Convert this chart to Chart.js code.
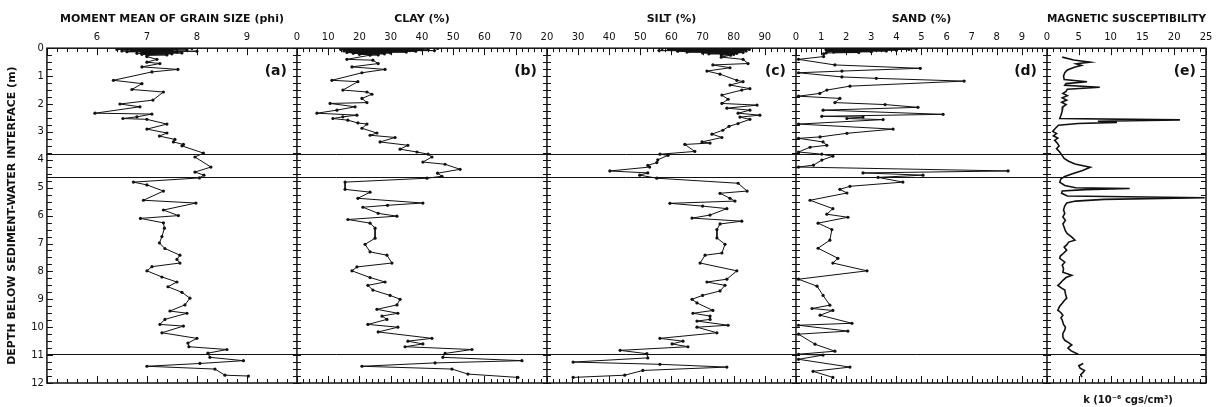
<!DOCTYPE html>
<html lang="en">
<head>
  <meta charset="UTF-8">
  <title>Core profiles</title>
  <script src="https://cdn.jsdelivr.net/npm/chart.js"></script>
  <style>
    html, body { margin: 0; padding: 0; background: #fff; }
    #wrap { width: 1219px; height: 407px; }
  </style>
</head>
<body>
<div id="wrap"><canvas id="profiles" width="1219" height="407"></canvas></div>
<script>
// (a) moment mean of grain size, phi
const grainDepth = [0.01, 0.02, 0.03, 0.045, 0.06, 0.07, 0.085, 0.1, 0.11, 0.125, 0.14, 0.155, 0.17, 0.185, 0.2, 0.22, 0.24, 0.26, 0.3, 0.4, 0.5, 0.55, 0.67, 0.76, 0.85, 1.15, 1.27, 1.48, 1.57, 1.86, 2.0, 2.1, 2.33, 2.36, 2.46, 2.52, 2.55, 2.72, 2.9, 3.04, 3.15, 3.27, 3.36, 3.45, 3.5, 3.76, 3.9, 4.26, 4.44, 4.55, 4.65, 4.8, 4.9, 5.12, 5.45, 5.55, 5.8, 6.0, 6.1, 6.26, 6.45, 6.75, 6.98, 7.18, 7.42, 7.57, 7.7, 7.83, 7.98, 8.2, 8.38, 8.55, 8.75, 8.96, 9.2, 9.42, 9.5, 9.72, 9.9, 9.96, 10.2, 10.4, 10.57, 10.7, 10.8, 10.93, 11.08, 11.2, 11.3, 11.4, 11.5, 11.72, 11.75];
const grainPhi = [7.9, 6.5, 7.6, 6.4, 7.8, 6.7, 7.5, 6.5, 8.0, 6.6, 7.6, 6.9, 7.7, 6.8, 7.5, 6.9, 7.4, 7.0, 7.0, 7.2, 7.0, 7.26, 6.9, 7.62, 7.1, 6.33, 6.9, 6.7, 7.33, 7.12, 6.46, 6.86, 5.96, 7.1, 6.8, 6.52, 7.0, 7.4, 7.0, 7.4, 7.25, 7.56, 7.53, 7.73, 7.7, 8.13, 7.96, 8.28, 7.96, 8.14, 8.05, 6.73, 7.0, 7.33, 6.93, 7.98, 7.33, 7.63, 6.87, 7.33, 7.35, 7.3, 7.25, 7.36, 7.66, 7.6, 7.66, 7.1, 7.0, 7.3, 7.6, 7.42, 7.7, 7.86, 7.76, 7.46, 7.8, 7.36, 7.26, 7.73, 7.3, 8.0, 7.82, 7.84, 8.6, 8.22, 8.26, 8.93, 8.06, 7.0, 8.36, 8.56, 9.03];

// (b) clay, %
const clayDepth = [0.01, 0.02, 0.03, 0.045, 0.06, 0.07, 0.085, 0.1, 0.11, 0.125, 0.14, 0.155, 0.17, 0.185, 0.2, 0.22, 0.24, 0.25, 0.4, 0.43, 0.55, 0.67, 0.76, 0.88, 1.15, 1.2, 1.5, 1.57, 1.65, 1.8, 1.95, 1.98, 2.1, 2.22, 2.33, 2.4, 2.46, 2.52, 2.58, 2.68, 2.72, 2.87, 3.04, 3.12, 3.2, 3.36, 3.48, 3.62, 3.72, 3.8, 3.9, 4.08, 4.16, 4.34, 4.48, 4.59, 4.66, 4.8, 5.06, 5.16, 5.38, 5.55, 5.63, 5.7, 5.92, 6.02, 6.14, 6.27, 6.45, 6.81, 7.03, 7.3, 7.42, 7.7, 7.84, 7.98, 8.22, 8.38, 8.5, 8.67, 8.86, 9.0, 9.2, 9.36, 9.5, 9.6, 9.72, 9.9, 10.0, 10.17, 10.4, 10.5, 10.6, 10.7, 10.8, 10.94, 11.08, 11.2, 11.28, 11.4, 11.5, 11.68, 11.8];
const clayPct = [45, 15, 42, 14, 40, 16, 44, 15, 38, 17, 35, 16, 30, 18, 28, 20, 26, 23.4, 16, 24.3, 26, 17.6, 28.2, 20.8, 11.2, 19.5, 14.7, 22.4, 24, 20.8, 22.4, 10.6, 18.6, 12.8, 6.4, 19.2, 14.7, 11.5, 16.3, 19.5, 22.4, 20.8, 25.6, 23.4, 31.4, 26.6, 35.5, 33, 38.4, 42, 43.2, 40.3, 47.4, 52.2, 45, 46.4, 41.6, 15.4, 15.4, 23.4, 19.5, 40.3, 29, 21.1, 26, 32, 16.3, 23.4, 25, 25, 21.8, 23.4, 28.8, 30.4, 19.2, 17.6, 23.4, 28.2, 22.7, 24.3, 29.8, 33, 32, 25.6, 32.3, 27.2, 28.8, 22.7, 32.3, 26, 43.2, 35.5, 40.3, 34.6, 56, 47.4, 46.7, 72, 44.2, 20.8, 49.6, 54.7, 70.7];

// (c) silt, %
const siltDepth = [0.01, 0.02, 0.03, 0.045, 0.06, 0.07, 0.085, 0.1, 0.11, 0.125, 0.14, 0.155, 0.17, 0.185, 0.2, 0.22, 0.24, 0.25, 0.32, 0.4, 0.55, 0.6, 0.7, 0.82, 0.93, 1.15, 1.2, 1.32, 1.45, 1.5, 1.68, 1.83, 1.98, 2.04, 2.15, 2.22, 2.33, 2.4, 2.47, 2.55, 2.7, 2.8, 2.94, 3.08, 3.2, 3.36, 3.4, 3.45, 3.7, 3.8, 3.84, 4.0, 4.1, 4.2, 4.26, 4.4, 4.47, 4.55, 4.66, 4.84, 5.12, 5.2, 5.38, 5.48, 5.56, 5.66, 5.75, 5.98, 6.09, 6.2, 6.3, 6.5, 6.8, 7.03, 7.34, 7.42, 7.7, 7.98, 8.28, 8.38, 8.5, 8.7, 8.86, 9.0, 9.13, 9.4, 9.5, 9.6, 9.72, 9.78, 9.93, 10.0, 10.2, 10.4, 10.5, 10.6, 10.7, 10.83, 10.95, 11.1, 11.25, 11.33, 11.43, 11.55, 11.72, 11.8];
const siltPct = [57, 84, 59, 85, 60, 83, 56, 84, 62, 82, 65, 83, 70, 81, 72, 80, 76, 79, 76, 83, 84.6, 73.3, 78.8, 71.4, 75.6, 81, 83, 78.8, 85.2, 82.6, 76.2, 78.2, 76.2, 87.5, 77.8, 85.2, 81.4, 88.4, 82, 85.2, 81.4, 78.5, 76.5, 73, 76.2, 69.8, 72.4, 64.3, 67.5, 56.3, 58.9, 55.6, 55.3, 52.4, 53, 40.2, 52.4, 49.8, 55.3, 81.4, 84.3, 75.6, 78.8, 80.4, 59.5, 70, 77.8, 72.4, 66.6, 82.6, 75.6, 74.6, 74.6, 77.2, 76.2, 70.8, 69.2, 81, 77.8, 71.4, 77.2, 75.6, 70, 66.6, 68.2, 73.3, 66.9, 72.4, 72.4, 68.2, 78.2, 68.2, 74.6, 56.3, 63.7, 60.2, 65.3, 43.5, 52.1, 52.4, 28.4, 56.3, 77.8, 50.8, 45, 28.4];

// (d) sand, %
const sandDepth = [0.01, 0.02, 0.03, 0.045, 0.06, 0.07, 0.085, 0.1, 0.11, 0.125, 0.14, 0.155, 0.17, 0.2, 0.3, 0.4, 0.6, 0.72, 0.82, 0.88, 1.03, 1.08, 1.18, 1.36, 1.5, 1.62, 1.72, 1.8, 1.95, 2.02, 2.12, 2.22, 2.37, 2.44, 2.47, 2.52, 2.56, 2.72, 2.9, 3.05, 3.18, 3.23, 3.36, 3.48, 3.55, 3.72, 3.8, 3.87, 4.01, 4.19, 4.26, 4.4, 4.47, 4.55, 4.63, 4.8, 4.95, 5.06, 5.19, 5.45, 5.75, 5.95, 6.06, 6.27, 6.5, 6.88, 7.17, 7.53, 7.7, 7.98, 8.28, 8.53, 8.86, 9.21, 9.33, 9.4, 9.57, 9.86, 9.93, 10.14, 10.25, 10.61, 10.86, 10.97, 11.0, 11.15, 11.43, 11.58, 11.8];
const sandPct = [1.2, 4.8, 1.3, 4.5, 1.2, 4.0, 1.4, 3.6, 1.3, 3.0, 1.5, 2.5, 1.2, 1.1, 1.1, 0.1, 1.55, 4.95, 1.83, 0.1, 1.83, 3.2, 6.7, 2.15, 1.23, 0.95, 0.1, 1.75, 1.55, 3.55, 4.86, 1.08, 5.86, 1.03, 2.67, 2.03, 3.47, 0.1, 3.87, 2.03, 0.96, 0.1, 1.08, 1.23, 0.56, 0.1, 1.03, 1.47, 1.03, 0.7, 0.1, 8.45, 2.67, 5.06, 3.27, 4.26, 2.15, 1.75, 2.03, 0.56, 1.47, 1.23, 2.07, 0.88, 1.43, 1.35, 0.88, 1.67, 1.47, 2.83, 0.1, 0.84, 1.08, 1.35, 0.64, 1.47, 0.96, 2.23, 0.1, 2.07, 0.1, 0.76, 1.55, 0.1, 1.08, 0.1, 2.15, 0.68, 1.47];

// (e) magnetic susceptibility, k (10^-6 cgs/cm3); null = no measurement
const magDepth = [0.32, 0.42, 0.5, 0.56, 0.62, 0.68, 0.78, 0.88, 1.0, 1.12, 1.2, 1.27, 1.33, 1.4, 1.47, 1.55, 1.62, 1.7, 1.78, 1.86, 1.94, 2.02, 2.1, 2.25, 2.4, 2.52, 2.57, 2.62, 2.66, 2.7, 2.76, 2.88, 2.98, 3.06, 3.14, 3.22, 3.3, 3.4, 3.5, 3.6, 3.72, 3.85, 3.95, 4.05, 4.15, 4.27, 4.38, 4.5, 4.6, 4.68, 4.8, 4.92, 5.0, 5.03, 5.07, 5.12, 5.2, 5.3, 5.36, 5.42, 5.48, 5.55, 5.65, 5.8, 5.92, 6.05, 6.17, 6.3, 6.42, 6.55, 6.65, 6.77, 6.88, 6.95, 7.05, 7.13, 7.24, 7.35, 7.45, 7.53, 7.67, 7.78, 7.9, 8.03, 8.14, 8.22, 8.32, 8.42, 8.5, 8.6, 8.67, 8.8, 8.96, 9.05, 9.14, 9.25, 9.39, 9.48, 9.57, 9.66, 9.75, 9.9, 10.0, 10.1, 10.22, 10.36, 10.47, 10.55, 10.64, 10.7, 10.75, 10.85, 10.97, 11.1, 11.3, 11.38, 11.47, 11.55, 11.61, 11.7, 11.79];
const magK = [2.4, 4.2, 6.8, 4.6, 5.4, 4.3, 3.2, 2.8, 2.6, 2.7, 6.3, 3.0, 2.8, 8.3, 3.2, 3.0, 2.5, 3.2, 2.4, 3.1, 2.3, 3.0, 2.5, 2.4, 2.2, 2.0, 20.9, 8.0, 11.0, 4.9, 1.8, 1.3, 0.9, 1.5, 1.0, 1.7, 1.2, 1.6, 1.9, 1.5, 2.0, 2.4, 2.7, 3.4, 4.4, 6.8, 5.6, 4.0, 2.8, 2.2, 2.0, 2.8, 4.5, 13.0, 6.0, 2.4, 2.3, 3.2, 24.8, 9.0, 4.5, 3.1, 2.8, 2.6, 2.8, 2.5, 2.9, 2.5, 2.7, 2.9, 3.2, 3.9, 4.4, 3.4, 3.1, 2.7, 3.1, 2.6, 2.1, 2.0, 2.8, 2.4, 2.6, 2.5, 3.9, 3.0, 2.5, 2.1, 1.7, 2.3, 2.8, 2.9, 3.1, 2.7, 2.4, 2.0, 1.7, 2.2, 2.5, 2.2, 2.4, 2.6, 2.9, 2.8, 2.5, 2.5, 2.8, 3.4, 3.9, 3.5, 3.3, 3.8, 4.9, null, 5.7, 5.0, 5.2, 5.9, 5.7, 5.3, 5.5];

// horizontal unit boundaries across all panels (m)
const boundaryDepths = [3.8, 4.6, 10.95];

const INK = '#111';
const FONT = '"DejaVu Sans", "Liberation Sans", sans-serif';

const panels = [
  { id: 'xa', title: 'MOMENT MEAN OF GRAIN SIZE (phi)', min: 5, max: 10, major: 1, minor: 0.2, hide: [5, 10], tag: '(a)', weight: 250, depth: grainDepth, vals: grainPhi },
  { id: 'xb', title: 'CLAY (%)', min: 0, max: 80, major: 10, minor: 2, hide: [80], tag: '(b)', weight: 250, depth: clayDepth, vals: clayPct },
  { id: 'xc', title: 'SILT (%)', min: 20, max: 100, major: 10, minor: 2, hide: [100], tag: '(c)', weight: 249, depth: siltDepth, vals: siltPct },
  { id: 'xd', title: 'SAND (%)', min: 0, max: 10, major: 1, minor: 0.2, hide: [10], tag: '(d)', weight: 251, depth: sandDepth, vals: sandPct },
  { id: 'xe', title: 'MAGNETIC SUSCEPTIBILITY', min: 0, max: 25, major: 5, minor: 1, hide: [], tag: '(e)', weight: 159, depth: magDepth, vals: magK, curve: true }
];

const scales = {
  y: {
    type: 'linear', position: 'left', reverse: true, min: 0, max: 12,
    grid: { display: false, drawTicks: false },
    border: { display: false },
    ticks: { stepSize: 1, padding: 3, color: INK, font: { family: FONT, size: 10 } },
    title: {
      display: true, text: 'DEPTH BELOW SEDIMENT-WATER INTERFACE (m)', color: INK,
      font: { family: FONT, size: 11, weight: 'bold' }, padding: { top: 4, bottom: 9 }
    }
  }
};

// top boxes are laid out by descending weight, so (a) gets the highest
panels.forEach((p, i) => {
  scales[p.id] = {
    type: 'linear', axis: 'x', position: 'top', stack: 'panels', stackWeight: p.weight,
    weight: panels.length - i,
    min: p.min, max: p.max,
    grid: { display: false, drawTicks: false },
    border: { display: false },
    ticks: {
      stepSize: p.major, autoSkip: false, maxRotation: 0, padding: 5, color: INK,
      font: { family: FONT, size: 10 },
      callback: v => p.hide.includes(v) ? '' : String(v)
    },
    title: {
      display: true, text: p.title, color: INK,
      font: { family: FONT, size: 11, weight: 'bold' }, padding: { top: 13, bottom: 0 }
    }
  };
});

const datasets = panels.map(p => ({
  data: p.depth.map((d, i) => ({ x: p.vals[i], y: d })),
  xAxisID: p.id,
  yAxisID: 'y',
  showLine: true,
  borderColor: INK,
  backgroundColor: INK,
  borderWidth: p.curve ? 1.6 : 1,
  pointRadius: p.curve ? 0 : 1.6,
  pointBorderWidth: 0,
  spanGaps: false
}));

// frame, inward ticks, boundary lines and panel letters
const framePlugin = {
  id: 'frame',
  afterDatasetsDraw(chart) {
    const ctx = chart.ctx;
    const area = chart.chartArea;
    const ys = chart.scales.y;
    ctx.save();
    ctx.strokeStyle = INK;
    ctx.fillStyle = INK;

    // top and bottom ticks of every panel
    ctx.lineWidth = 1;
    ctx.beginPath();
    panels.forEach(p => {
      const sc = chart.scales[p.id];
      const n = Math.round((p.max - p.min) / p.minor);
      for (let i = 0; i <= n; i++) {
        const v = p.min + i * p.minor;
        const isMajor = Math.abs(v / p.major - Math.round(v / p.major)) < 1e-6;
        const len = isMajor ? 7 : 4;
        const x = Math.round(sc.getPixelForValue(v)) + 0.5;
        ctx.moveTo(x, area.top); ctx.lineTo(x, area.top + len);
        ctx.moveTo(x, area.bottom); ctx.lineTo(x, area.bottom - len);
      }
    });
    ctx.stroke();

    // depth ticks on panel sides
    const edges = [area.left].concat(panels.map(p => chart.scales[p.id].right));
    ctx.beginPath();
    for (let i = 0; i <= 48; i++) {
      const y = Math.round(ys.getPixelForValue(i * 0.25)) + 0.5;
      edges.forEach((x, k) => {
        const len = i % 4 === 0 ? 6 : 5;
        if (k === 0) { ctx.moveTo(x, y); ctx.lineTo(x + len, y); }
        else if (k === edges.length - 1) { ctx.moveTo(x, y); ctx.lineTo(x - len, y); }
        else { ctx.moveTo(x - 4, y); ctx.lineTo(x + 4, y); }
      });
    }
    ctx.stroke();

    // boundary lines
    ctx.lineWidth = 1;
    ctx.beginPath();
    boundaryDepths.forEach(d => {
      const y = Math.round(ys.getPixelForValue(d)) + 0.5;
      ctx.moveTo(area.left, y); ctx.lineTo(area.right, y);
    });
    ctx.stroke();

    // panel outlines
    ctx.lineWidth = 1.5;
    ctx.strokeRect(area.left, area.top, area.right - area.left, area.bottom - area.top);
    ctx.beginPath();
    edges.slice(1, -1).forEach(x => { ctx.moveTo(x, area.top); ctx.lineTo(x, area.bottom); });
    ctx.stroke();

    // panel letters
    ctx.font = 'bold 14px ' + FONT;
    ctx.textAlign = 'right';
    ctx.textBaseline = 'middle';
    panels.forEach(p => {
      ctx.fillText(p.tag, chart.scales[p.id].right - 10, area.top + 23);
    });

    // unit of the susceptibility axis
    ctx.font = 'bold 10px ' + FONT;
    ctx.textAlign = 'center';
    ctx.fillText('k (10\u207B\u2076 cgs/cm\u00B3)', 1128, 400);
    ctx.restore();
  }
};

new Chart(document.getElementById('profiles'), {
  type: 'scatter',
  data: { datasets: datasets },
  options: {
    responsive: false,
    animation: false,
    devicePixelRatio: 1,
    layout: { padding: { left: 2, right: 13, top: 0, bottom: 24 } },
    plugins: { legend: { display: false }, tooltip: { enabled: false } },
    scales: scales
  },
  plugins: [framePlugin]
});
</script>
</body>
</html>
